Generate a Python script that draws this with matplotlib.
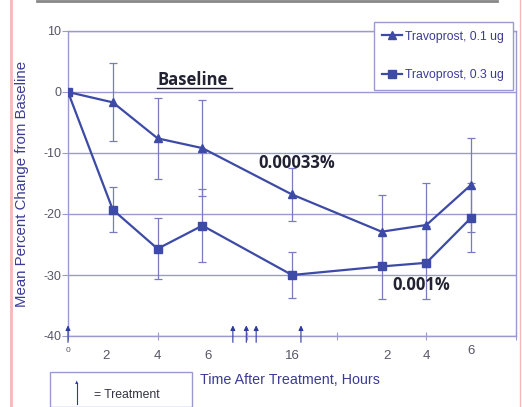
import numpy as np
import matplotlib
matplotlib.use('Agg')
from matplotlib import pyplot as plt
from matplotlib.lines import Line2D
from matplotlib.patches import Rectangle

plt.rcParams['font.family'] = ['Liberation Sans', 'DejaVu Sans']

# time points laid out as evenly spaced slots on the x axis
pos = [0, 1, 2, 3, 5, 7, 8, 9]
tick_text = ['0', '2', '4', '6', '16', '2', '4', '6']

low_mean = [0, -1.7, -7.6, -9.2, -16.8, -22.9, -21.8, -15.2]
low_err = [0, 6.4, 6.6, 7.9, 4.4, 6.0, 6.9, 7.7]
high_mean = [0, -19.3, -25.7, -21.9, -30.0, -28.6, -28.0, -20.6]
high_err = [0, 3.7, 5.0, 6.0, 3.7, 5.3, 6.0, 5.7]

treat_pos = [0, 3.68, 3.98, 4.2, 5.2]

line_c = '#3d4aa6'
grid_c = '#9a9ad0'
txt_c = '#3b3b96'
note_font = ['Open Sans', 'DejaVu Sans']

fig = plt.figure(figsize=(5.22, 4.07), dpi=100)
ax = fig.add_axes([68 / 522, 71 / 407, 448 / 522, 305 / 407])

ax.errorbar(pos, low_mean, yerr=low_err, fmt='none', ecolor='#7a7ac0',
            elinewidth=0.9, capsize=3, capthick=0.9, zorder=2)
ax.errorbar(pos, high_mean, yerr=high_err, fmt='none', ecolor='#7a7ac0',
            elinewidth=0.9, capsize=3, capthick=0.9, zorder=2)
ax.plot(pos, low_mean, color=line_c, lw=1.6, marker='^', ms=6,
        label='Travoprost, 0.1 ug', zorder=3)
ax.plot(pos, high_mean, color=line_c, lw=1.6, marker='s', ms=6,
        label='Travoprost, 0.3 ug', zorder=3)

ax.set_xlim(0, 10)
ax.set_ylim(-40, 10)
ax.set_yticks([-40, -30, -20, -10, 0, 10])
ax.set_yticklabels(['-40', '-30', '-20', '-10', '0', '10'], fontsize=9, color='#555566')
ax.yaxis.grid(True, color=grid_c, lw=1)
ax.set_axisbelow(True)
ax.set_xticks([0, 2, 4, 6, 8, 10])
ax.set_xticklabels([])
ax.tick_params(axis='x', direction='inout', length=6, color=grid_c)
ax.tick_params(axis='y', length=4, color=grid_c, pad=1)
for s in ['left', 'bottom', 'right', 'top']:
    ax.spines[s].set_color(grid_c)
    ax.spines[s].set_linewidth(1)

# time labels under the axis
offs = [0, -0.15, 0, 0.12, 0, 0.12, 0, 0]
for p, t, o in zip(pos, tick_text, offs):
    ax.text(p + o, -43.2 if p not in (0, 9) else -42.4, t, ha='center', va='center',
            fontsize=9.5 if p else 6, color='#555566', clip_on=False)

# treatment arrows
for p in treat_pos:
    ax.annotate('', xy=(p, -37.8), xytext=(p, -41.5),
                arrowprops=dict(arrowstyle='-|>', color='#2e3aa0', lw=0.8,
                                mutation_scale=7), annotation_clip=False)

ax.text(1.99, 1.2, 'Baseline', fontsize=12, fontweight='bold', color='#222233',
        family=note_font, va='baseline')
ax.plot([1.99, 3.67], [0.6, 0.6], color='#222233', lw=1)
ax.text(4.24, -11.6, '0.00033%', fontsize=12, fontweight='bold', color='#222233',
        family=note_font, va='center')
ax.text(7.25, -31.6, '0.001%', fontsize=12, fontweight='bold', color='#222233',
        family=note_font, va='center')

ax.set_ylabel('Mean Percent Change from Baseline', fontsize=10.8, color=txt_c, labelpad=10)
fig.text(290 / 522, 1 - 380 / 407, 'Time After Treatment, Hours', ha='center', va='center',
         fontsize=10.3, color=txt_c)

leg = ax.legend(loc='upper right', bbox_to_anchor=(0.993, 1.0295), borderaxespad=0,
                fontsize=8.8, frameon=True, fancybox=False, handlelength=1.6,
                labelspacing=2.2, borderpad=0.7, handletextpad=0.3, labelcolor=txt_c)
leg.get_frame().set_edgecolor(grid_c)
leg.get_frame().set_linewidth(1)
leg.get_frame().set_alpha(1)

# treatment key box
fig.add_artist(Rectangle((50 / 522, 0), 142 / 522, 35 / 407, transform=fig.transFigure,
                         fill=False, edgecolor=grid_c, lw=1))
fig.add_artist(Line2D([77 / 522, 77 / 522], [3 / 407, 24 / 407], color='#2e3aa0', lw=0.8))
fig.text(77 / 522, 24 / 407, '\u25b2', fontsize=4, color='#2e3aa0', ha='center', va='center')
fig.text(94 / 522, 12 / 407, '= Treatment', fontsize=8.8, color='#333344', va='center')

# outer page lines
fig.add_artist(Line2D([37 / 522, 497 / 522], [406 / 407, 406 / 407], color='#888888', lw=2))
fig.add_artist(Line2D([11 / 522, 11 / 522], [0, 1], color='#f6b8b8', lw=2))
fig.add_artist(Line2D([520 / 522, 520 / 522], [0, 1], color='#f6b8b8', lw=1))

fig.savefig('out.png', dpi=100)
